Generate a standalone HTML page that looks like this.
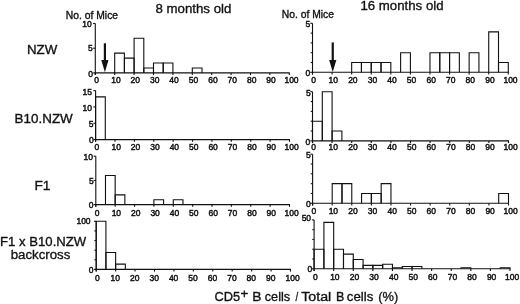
<!DOCTYPE html>
<html><head><meta charset="utf-8"><style>
html,body{margin:0;padding:0;background:#fff;}
body{width:520px;height:304px;overflow:hidden;}
svg{display:block;filter:blur(0.3px);}
text{font-family:"Liberation Sans", sans-serif;fill:#111;stroke:#111;stroke-width:0.35px;}
text.tb{stroke:#111;stroke-width:0.45px;}
</style></head><body>
<svg width="520" height="304" viewBox="0 0 520 304" stroke="#111" stroke-linecap="butt">
<line x1="95.30" y1="23.50" x2="95.30" y2="75.10" stroke-width="1.1"/>
<line x1="94.80" y1="72.90" x2="289.80" y2="72.90" stroke-width="1.1"/>
<line x1="95.30" y1="72.90" x2="95.30" y2="75.10" stroke-width="1.1"/>
<text x="96.50" y="83.00" font-size="8.5" text-anchor="middle" class="tb">0</text>
<line x1="114.70" y1="72.90" x2="114.70" y2="75.10" stroke-width="1.1"/>
<text x="115.90" y="83.00" font-size="8.5" text-anchor="middle" class="tb">10</text>
<line x1="134.10" y1="72.90" x2="134.10" y2="75.10" stroke-width="1.1"/>
<text x="135.30" y="83.00" font-size="8.5" text-anchor="middle" class="tb">20</text>
<line x1="153.50" y1="72.90" x2="153.50" y2="75.10" stroke-width="1.1"/>
<text x="154.70" y="83.00" font-size="8.5" text-anchor="middle" class="tb">30</text>
<line x1="172.90" y1="72.90" x2="172.90" y2="75.10" stroke-width="1.1"/>
<text x="174.10" y="83.00" font-size="8.5" text-anchor="middle" class="tb">40</text>
<line x1="192.30" y1="72.90" x2="192.30" y2="75.10" stroke-width="1.1"/>
<text x="193.50" y="83.00" font-size="8.5" text-anchor="middle" class="tb">50</text>
<line x1="211.70" y1="72.90" x2="211.70" y2="75.10" stroke-width="1.1"/>
<text x="212.90" y="83.00" font-size="8.5" text-anchor="middle" class="tb">60</text>
<line x1="231.10" y1="72.90" x2="231.10" y2="75.10" stroke-width="1.1"/>
<text x="232.30" y="83.00" font-size="8.5" text-anchor="middle" class="tb">70</text>
<line x1="250.50" y1="72.90" x2="250.50" y2="75.10" stroke-width="1.1"/>
<text x="251.70" y="83.00" font-size="8.5" text-anchor="middle" class="tb">80</text>
<line x1="269.90" y1="72.90" x2="269.90" y2="75.10" stroke-width="1.1"/>
<text x="271.10" y="83.00" font-size="8.5" text-anchor="middle" class="tb">90</text>
<line x1="289.30" y1="72.90" x2="289.30" y2="75.10" stroke-width="1.1"/>
<text x="291.50" y="83.00" font-size="8.5" text-anchor="middle" class="tb">100</text>
<line x1="93.10" y1="72.90" x2="95.30" y2="72.90" stroke-width="1.1"/>
<text x="93.10" y="76.55" font-size="8.5" text-anchor="end" class="tb">0</text>
<line x1="93.10" y1="48.20" x2="95.30" y2="48.20" stroke-width="1.1"/>
<text x="92.70" y="51.40" font-size="8.5" text-anchor="end" class="tb">5</text>
<line x1="93.10" y1="23.50" x2="95.30" y2="23.50" stroke-width="1.1"/>
<text x="91.70" y="27.05" font-size="8.5" text-anchor="end" class="tb">10</text>
<path d="M114.70,72.90V53.14H124.40V72.90" fill="none" stroke-width="1.1"/>
<path d="M124.40,72.90V58.08H134.10V72.90" fill="none" stroke-width="1.1"/>
<path d="M134.10,72.90V38.32H143.80V72.90" fill="none" stroke-width="1.1"/>
<path d="M143.80,72.90V67.96H153.50V72.90" fill="none" stroke-width="1.1"/>
<path d="M153.50,72.90V63.02H163.20V72.90" fill="none" stroke-width="1.1"/>
<path d="M163.20,72.90V63.02H172.90V72.90" fill="none" stroke-width="1.1"/>
<path d="M192.30,72.90V67.96H202.00V72.90" fill="none" stroke-width="1.1"/>
<line x1="95.60" y1="90.60" x2="95.60" y2="141.80" stroke-width="1.1"/>
<line x1="95.10" y1="139.60" x2="290.00" y2="139.60" stroke-width="1.1"/>
<line x1="95.60" y1="139.60" x2="95.60" y2="141.80" stroke-width="1.1"/>
<text x="96.80" y="149.80" font-size="8.5" text-anchor="middle" class="tb">0</text>
<line x1="114.99" y1="139.60" x2="114.99" y2="141.80" stroke-width="1.1"/>
<text x="116.19" y="149.80" font-size="8.5" text-anchor="middle" class="tb">10</text>
<line x1="134.38" y1="139.60" x2="134.38" y2="141.80" stroke-width="1.1"/>
<text x="135.58" y="149.80" font-size="8.5" text-anchor="middle" class="tb">20</text>
<line x1="153.77" y1="139.60" x2="153.77" y2="141.80" stroke-width="1.1"/>
<text x="154.97" y="149.80" font-size="8.5" text-anchor="middle" class="tb">30</text>
<line x1="173.16" y1="139.60" x2="173.16" y2="141.80" stroke-width="1.1"/>
<text x="174.36" y="149.80" font-size="8.5" text-anchor="middle" class="tb">40</text>
<line x1="192.55" y1="139.60" x2="192.55" y2="141.80" stroke-width="1.1"/>
<text x="193.75" y="149.80" font-size="8.5" text-anchor="middle" class="tb">50</text>
<line x1="211.94" y1="139.60" x2="211.94" y2="141.80" stroke-width="1.1"/>
<text x="213.14" y="149.80" font-size="8.5" text-anchor="middle" class="tb">60</text>
<line x1="231.33" y1="139.60" x2="231.33" y2="141.80" stroke-width="1.1"/>
<text x="232.53" y="149.80" font-size="8.5" text-anchor="middle" class="tb">70</text>
<line x1="250.72" y1="139.60" x2="250.72" y2="141.80" stroke-width="1.1"/>
<text x="251.92" y="149.80" font-size="8.5" text-anchor="middle" class="tb">80</text>
<line x1="270.11" y1="139.60" x2="270.11" y2="141.80" stroke-width="1.1"/>
<text x="271.31" y="149.80" font-size="8.5" text-anchor="middle" class="tb">90</text>
<line x1="289.50" y1="139.60" x2="289.50" y2="141.80" stroke-width="1.1"/>
<text x="291.70" y="149.80" font-size="8.5" text-anchor="middle" class="tb">100</text>
<line x1="93.40" y1="139.60" x2="95.60" y2="139.60" stroke-width="1.1"/>
<text x="93.70" y="143.10" font-size="8.5" text-anchor="end" class="tb">0</text>
<line x1="93.40" y1="123.27" x2="95.60" y2="123.27" stroke-width="1.1"/>
<text x="93.40" y="127.10" font-size="8.5" text-anchor="end" class="tb">5</text>
<line x1="93.40" y1="106.93" x2="95.60" y2="106.93" stroke-width="1.1"/>
<text x="91.90" y="111.15" font-size="8.5" text-anchor="end" class="tb">10</text>
<line x1="93.40" y1="90.60" x2="95.60" y2="90.60" stroke-width="1.1"/>
<text x="91.90" y="94.95" font-size="8.5" text-anchor="end" class="tb">15</text>
<path d="M95.60,139.60V96.90H105.29V139.60" fill="none" stroke-width="1.1"/>
<line x1="95.80" y1="156.20" x2="95.80" y2="206.80" stroke-width="1.1"/>
<line x1="95.30" y1="204.60" x2="290.00" y2="204.60" stroke-width="1.1"/>
<line x1="95.80" y1="204.60" x2="95.80" y2="206.80" stroke-width="1.1"/>
<text x="97.00" y="215.80" font-size="8.5" text-anchor="middle" class="tb">0</text>
<line x1="115.17" y1="204.60" x2="115.17" y2="206.80" stroke-width="1.1"/>
<text x="116.37" y="215.80" font-size="8.5" text-anchor="middle" class="tb">10</text>
<line x1="134.54" y1="204.60" x2="134.54" y2="206.80" stroke-width="1.1"/>
<text x="135.74" y="215.80" font-size="8.5" text-anchor="middle" class="tb">20</text>
<line x1="153.91" y1="204.60" x2="153.91" y2="206.80" stroke-width="1.1"/>
<text x="155.11" y="215.80" font-size="8.5" text-anchor="middle" class="tb">30</text>
<line x1="173.28" y1="204.60" x2="173.28" y2="206.80" stroke-width="1.1"/>
<text x="174.48" y="215.80" font-size="8.5" text-anchor="middle" class="tb">40</text>
<line x1="192.65" y1="204.60" x2="192.65" y2="206.80" stroke-width="1.1"/>
<text x="193.85" y="215.80" font-size="8.5" text-anchor="middle" class="tb">50</text>
<line x1="212.02" y1="204.60" x2="212.02" y2="206.80" stroke-width="1.1"/>
<text x="213.22" y="215.80" font-size="8.5" text-anchor="middle" class="tb">60</text>
<line x1="231.39" y1="204.60" x2="231.39" y2="206.80" stroke-width="1.1"/>
<text x="232.59" y="215.80" font-size="8.5" text-anchor="middle" class="tb">70</text>
<line x1="250.76" y1="204.60" x2="250.76" y2="206.80" stroke-width="1.1"/>
<text x="251.96" y="215.80" font-size="8.5" text-anchor="middle" class="tb">80</text>
<line x1="270.13" y1="204.60" x2="270.13" y2="206.80" stroke-width="1.1"/>
<text x="271.33" y="215.80" font-size="8.5" text-anchor="middle" class="tb">90</text>
<line x1="289.50" y1="204.60" x2="289.50" y2="206.80" stroke-width="1.1"/>
<text x="291.70" y="215.80" font-size="8.5" text-anchor="middle" class="tb">100</text>
<line x1="93.60" y1="204.60" x2="95.80" y2="204.60" stroke-width="1.1"/>
<text x="93.40" y="208.15" font-size="8.5" text-anchor="end" class="tb">0</text>
<line x1="93.60" y1="180.40" x2="95.80" y2="180.40" stroke-width="1.1"/>
<text x="93.70" y="183.80" font-size="8.5" text-anchor="end" class="tb">5</text>
<line x1="93.60" y1="156.20" x2="95.80" y2="156.20" stroke-width="1.1"/>
<text x="92.90" y="159.85" font-size="8.5" text-anchor="end" class="tb">10</text>
<path d="M105.48,204.60V175.56H115.17V204.60" fill="none" stroke-width="1.1"/>
<path d="M115.17,204.60V194.92H124.85V204.60" fill="none" stroke-width="1.1"/>
<path d="M153.91,204.60V199.76H163.59V204.60" fill="none" stroke-width="1.1"/>
<path d="M173.28,204.60V199.76H182.96V204.60" fill="none" stroke-width="1.1"/>
<line x1="96.20" y1="221.30" x2="96.20" y2="271.60" stroke-width="1.1"/>
<line x1="95.70" y1="269.40" x2="291.00" y2="269.40" stroke-width="1.1"/>
<line x1="96.20" y1="269.40" x2="96.20" y2="271.60" stroke-width="1.1"/>
<text x="97.40" y="280.50" font-size="8.5" text-anchor="middle" class="tb">0</text>
<line x1="115.63" y1="269.40" x2="115.63" y2="271.60" stroke-width="1.1"/>
<text x="115.33" y="280.50" font-size="8.5" text-anchor="middle" class="tb">10</text>
<line x1="135.06" y1="269.40" x2="135.06" y2="271.60" stroke-width="1.1"/>
<text x="134.76" y="280.50" font-size="8.5" text-anchor="middle" class="tb">20</text>
<line x1="154.49" y1="269.40" x2="154.49" y2="271.60" stroke-width="1.1"/>
<text x="154.19" y="280.50" font-size="8.5" text-anchor="middle" class="tb">30</text>
<line x1="173.92" y1="269.40" x2="173.92" y2="271.60" stroke-width="1.1"/>
<text x="173.62" y="280.50" font-size="8.5" text-anchor="middle" class="tb">40</text>
<line x1="193.35" y1="269.40" x2="193.35" y2="271.60" stroke-width="1.1"/>
<text x="193.05" y="280.50" font-size="8.5" text-anchor="middle" class="tb">50</text>
<line x1="212.78" y1="269.40" x2="212.78" y2="271.60" stroke-width="1.1"/>
<text x="212.48" y="280.50" font-size="8.5" text-anchor="middle" class="tb">60</text>
<line x1="232.21" y1="269.40" x2="232.21" y2="271.60" stroke-width="1.1"/>
<text x="231.91" y="280.50" font-size="8.5" text-anchor="middle" class="tb">70</text>
<line x1="251.64" y1="269.40" x2="251.64" y2="271.60" stroke-width="1.1"/>
<text x="251.34" y="280.50" font-size="8.5" text-anchor="middle" class="tb">80</text>
<line x1="271.07" y1="269.40" x2="271.07" y2="271.60" stroke-width="1.1"/>
<text x="270.77" y="280.50" font-size="8.5" text-anchor="middle" class="tb">90</text>
<line x1="290.50" y1="269.40" x2="290.50" y2="271.60" stroke-width="1.1"/>
<text x="292.70" y="280.50" font-size="8.5" text-anchor="middle" class="tb">100</text>
<line x1="94.00" y1="269.40" x2="96.20" y2="269.40" stroke-width="1.1"/>
<text x="93.50" y="273.15" font-size="8.5" text-anchor="end" class="tb">0</text>
<line x1="94.00" y1="221.30" x2="96.20" y2="221.30" stroke-width="1.1"/>
<text x="90.60" y="223.95" font-size="8.5" text-anchor="end" class="tb">100</text>
<line x1="94.40" y1="259.78" x2="96.20" y2="259.78" stroke-width="1.1"/>
<line x1="94.40" y1="250.16" x2="96.20" y2="250.16" stroke-width="1.1"/>
<line x1="94.40" y1="240.54" x2="96.20" y2="240.54" stroke-width="1.1"/>
<line x1="94.40" y1="230.92" x2="96.20" y2="230.92" stroke-width="1.1"/>
<path d="M96.20,269.40V221.30H105.92V269.40" fill="none" stroke-width="1.1"/>
<path d="M105.92,269.40V252.56H115.63V269.40" fill="none" stroke-width="1.1"/>
<path d="M115.63,269.40V264.11H125.34V269.40" fill="none" stroke-width="1.1"/>
<line x1="312.50" y1="23.30" x2="312.50" y2="74.50" stroke-width="1.1"/>
<line x1="312.00" y1="72.30" x2="508.80" y2="72.30" stroke-width="1.1"/>
<line x1="312.50" y1="72.30" x2="312.50" y2="74.50" stroke-width="1.1"/>
<text x="313.70" y="83.10" font-size="8.5" text-anchor="middle" class="tb">0</text>
<line x1="332.08" y1="72.30" x2="332.08" y2="74.50" stroke-width="1.1"/>
<text x="333.28" y="83.10" font-size="8.5" text-anchor="middle" class="tb">10</text>
<line x1="351.66" y1="72.30" x2="351.66" y2="74.50" stroke-width="1.1"/>
<text x="352.86" y="83.10" font-size="8.5" text-anchor="middle" class="tb">20</text>
<line x1="371.24" y1="72.30" x2="371.24" y2="74.50" stroke-width="1.1"/>
<text x="372.44" y="83.10" font-size="8.5" text-anchor="middle" class="tb">30</text>
<line x1="390.82" y1="72.30" x2="390.82" y2="74.50" stroke-width="1.1"/>
<text x="392.02" y="83.10" font-size="8.5" text-anchor="middle" class="tb">40</text>
<line x1="410.40" y1="72.30" x2="410.40" y2="74.50" stroke-width="1.1"/>
<text x="411.60" y="83.10" font-size="8.5" text-anchor="middle" class="tb">50</text>
<line x1="429.98" y1="72.30" x2="429.98" y2="74.50" stroke-width="1.1"/>
<text x="431.18" y="83.10" font-size="8.5" text-anchor="middle" class="tb">60</text>
<line x1="449.56" y1="72.30" x2="449.56" y2="74.50" stroke-width="1.1"/>
<text x="450.76" y="83.10" font-size="8.5" text-anchor="middle" class="tb">70</text>
<line x1="469.14" y1="72.30" x2="469.14" y2="74.50" stroke-width="1.1"/>
<text x="470.34" y="83.10" font-size="8.5" text-anchor="middle" class="tb">80</text>
<line x1="488.72" y1="72.30" x2="488.72" y2="74.50" stroke-width="1.1"/>
<text x="489.92" y="83.10" font-size="8.5" text-anchor="middle" class="tb">90</text>
<line x1="508.30" y1="72.30" x2="508.30" y2="74.50" stroke-width="1.1"/>
<text x="510.50" y="83.10" font-size="8.5" text-anchor="middle" class="tb">100</text>
<line x1="310.30" y1="72.30" x2="312.50" y2="72.30" stroke-width="1.1"/>
<text x="310.30" y="76.45" font-size="8.5" text-anchor="end" class="tb">0</text>
<line x1="310.30" y1="23.30" x2="312.50" y2="23.30" stroke-width="1.1"/>
<text x="310.30" y="27.10" font-size="8.5" text-anchor="end" class="tb">5</text>
<line x1="310.70" y1="62.50" x2="312.50" y2="62.50" stroke-width="1.1"/>
<line x1="310.70" y1="52.70" x2="312.50" y2="52.70" stroke-width="1.1"/>
<line x1="310.70" y1="42.90" x2="312.50" y2="42.90" stroke-width="1.1"/>
<line x1="310.70" y1="33.10" x2="312.50" y2="33.10" stroke-width="1.1"/>
<path d="M351.66,72.30V62.50H361.45V72.30" fill="none" stroke-width="1.1"/>
<path d="M361.45,72.30V62.50H371.24V72.30" fill="none" stroke-width="1.1"/>
<path d="M371.24,72.30V62.50H381.03V72.30" fill="none" stroke-width="1.1"/>
<path d="M381.03,72.30V62.50H390.82V72.30" fill="none" stroke-width="1.1"/>
<path d="M400.61,72.30V52.70H410.40V72.30" fill="none" stroke-width="1.1"/>
<path d="M429.98,72.30V52.70H439.77V72.30" fill="none" stroke-width="1.1"/>
<path d="M439.77,72.30V52.70H449.56V72.30" fill="none" stroke-width="1.1"/>
<path d="M449.56,72.30V52.70H459.35V72.30" fill="none" stroke-width="1.1"/>
<path d="M469.14,72.30V52.70H478.93V72.30" fill="none" stroke-width="1.1"/>
<path d="M488.72,72.30V31.92H498.51V72.30" fill="none" stroke-width="1.1"/>
<path d="M498.51,72.30V62.50H508.30V72.30" fill="none" stroke-width="1.1"/>
<line x1="312.50" y1="91.70" x2="312.50" y2="143.10" stroke-width="1.1"/>
<line x1="312.00" y1="140.90" x2="509.00" y2="140.90" stroke-width="1.1"/>
<line x1="312.50" y1="140.90" x2="312.50" y2="143.10" stroke-width="1.1"/>
<text x="313.70" y="150.20" font-size="8.5" text-anchor="middle" class="tb">0</text>
<line x1="332.10" y1="140.90" x2="332.10" y2="143.10" stroke-width="1.1"/>
<text x="333.30" y="150.20" font-size="8.5" text-anchor="middle" class="tb">10</text>
<line x1="351.70" y1="140.90" x2="351.70" y2="143.10" stroke-width="1.1"/>
<text x="352.90" y="150.20" font-size="8.5" text-anchor="middle" class="tb">20</text>
<line x1="371.30" y1="140.90" x2="371.30" y2="143.10" stroke-width="1.1"/>
<text x="372.50" y="150.20" font-size="8.5" text-anchor="middle" class="tb">30</text>
<line x1="390.90" y1="140.90" x2="390.90" y2="143.10" stroke-width="1.1"/>
<text x="392.10" y="150.20" font-size="8.5" text-anchor="middle" class="tb">40</text>
<line x1="410.50" y1="140.90" x2="410.50" y2="143.10" stroke-width="1.1"/>
<text x="411.70" y="150.20" font-size="8.5" text-anchor="middle" class="tb">50</text>
<line x1="430.10" y1="140.90" x2="430.10" y2="143.10" stroke-width="1.1"/>
<text x="431.30" y="150.20" font-size="8.5" text-anchor="middle" class="tb">60</text>
<line x1="449.70" y1="140.90" x2="449.70" y2="143.10" stroke-width="1.1"/>
<text x="450.90" y="150.20" font-size="8.5" text-anchor="middle" class="tb">70</text>
<line x1="469.30" y1="140.90" x2="469.30" y2="143.10" stroke-width="1.1"/>
<text x="470.50" y="150.20" font-size="8.5" text-anchor="middle" class="tb">80</text>
<line x1="488.90" y1="140.90" x2="488.90" y2="143.10" stroke-width="1.1"/>
<text x="490.10" y="150.20" font-size="8.5" text-anchor="middle" class="tb">90</text>
<line x1="508.50" y1="140.90" x2="508.50" y2="143.10" stroke-width="1.1"/>
<text x="510.70" y="150.20" font-size="8.5" text-anchor="middle" class="tb">100</text>
<line x1="310.30" y1="140.90" x2="312.50" y2="140.90" stroke-width="1.1"/>
<text x="310.30" y="144.75" font-size="8.5" text-anchor="end" class="tb">0</text>
<line x1="310.30" y1="91.70" x2="312.50" y2="91.70" stroke-width="1.1"/>
<text x="310.70" y="95.80" font-size="8.5" text-anchor="end" class="tb">5</text>
<line x1="310.70" y1="131.06" x2="312.50" y2="131.06" stroke-width="1.1"/>
<line x1="310.70" y1="121.22" x2="312.50" y2="121.22" stroke-width="1.1"/>
<line x1="310.70" y1="111.38" x2="312.50" y2="111.38" stroke-width="1.1"/>
<line x1="310.70" y1="101.54" x2="312.50" y2="101.54" stroke-width="1.1"/>
<path d="M312.50,140.90V121.22H322.30V140.90" fill="none" stroke-width="1.1"/>
<path d="M322.30,140.90V91.70H332.10V140.90" fill="none" stroke-width="1.1"/>
<path d="M332.10,140.90V131.06H341.90V140.90" fill="none" stroke-width="1.1"/>
<line x1="312.60" y1="154.20" x2="312.60" y2="205.50" stroke-width="1.1"/>
<line x1="312.10" y1="203.30" x2="509.00" y2="203.30" stroke-width="1.1"/>
<line x1="312.60" y1="203.30" x2="312.60" y2="205.50" stroke-width="1.1"/>
<text x="313.80" y="213.50" font-size="8.5" text-anchor="middle" class="tb">0</text>
<line x1="332.19" y1="203.30" x2="332.19" y2="205.50" stroke-width="1.1"/>
<text x="333.39" y="213.50" font-size="8.5" text-anchor="middle" class="tb">10</text>
<line x1="351.78" y1="203.30" x2="351.78" y2="205.50" stroke-width="1.1"/>
<text x="352.98" y="213.50" font-size="8.5" text-anchor="middle" class="tb">20</text>
<line x1="371.37" y1="203.30" x2="371.37" y2="205.50" stroke-width="1.1"/>
<text x="372.57" y="213.50" font-size="8.5" text-anchor="middle" class="tb">30</text>
<line x1="390.96" y1="203.30" x2="390.96" y2="205.50" stroke-width="1.1"/>
<text x="392.16" y="213.50" font-size="8.5" text-anchor="middle" class="tb">40</text>
<line x1="410.55" y1="203.30" x2="410.55" y2="205.50" stroke-width="1.1"/>
<text x="411.75" y="213.50" font-size="8.5" text-anchor="middle" class="tb">50</text>
<line x1="430.14" y1="203.30" x2="430.14" y2="205.50" stroke-width="1.1"/>
<text x="431.34" y="213.50" font-size="8.5" text-anchor="middle" class="tb">60</text>
<line x1="449.73" y1="203.30" x2="449.73" y2="205.50" stroke-width="1.1"/>
<text x="450.93" y="213.50" font-size="8.5" text-anchor="middle" class="tb">70</text>
<line x1="469.32" y1="203.30" x2="469.32" y2="205.50" stroke-width="1.1"/>
<text x="470.52" y="213.50" font-size="8.5" text-anchor="middle" class="tb">80</text>
<line x1="488.91" y1="203.30" x2="488.91" y2="205.50" stroke-width="1.1"/>
<text x="490.11" y="213.50" font-size="8.5" text-anchor="middle" class="tb">90</text>
<line x1="508.50" y1="203.30" x2="508.50" y2="205.50" stroke-width="1.1"/>
<text x="510.70" y="213.50" font-size="8.5" text-anchor="middle" class="tb">100</text>
<line x1="310.40" y1="203.30" x2="312.60" y2="203.30" stroke-width="1.1"/>
<text x="310.70" y="207.15" font-size="8.5" text-anchor="end" class="tb">0</text>
<line x1="310.40" y1="154.20" x2="312.60" y2="154.20" stroke-width="1.1"/>
<text x="310.70" y="157.60" font-size="8.5" text-anchor="end" class="tb">5</text>
<line x1="310.80" y1="193.48" x2="312.60" y2="193.48" stroke-width="1.1"/>
<line x1="310.80" y1="183.66" x2="312.60" y2="183.66" stroke-width="1.1"/>
<line x1="310.80" y1="173.84" x2="312.60" y2="173.84" stroke-width="1.1"/>
<line x1="310.80" y1="164.02" x2="312.60" y2="164.02" stroke-width="1.1"/>
<path d="M332.19,203.30V183.66H341.99V203.30" fill="none" stroke-width="1.1"/>
<path d="M341.99,203.30V183.66H351.78V203.30" fill="none" stroke-width="1.1"/>
<path d="M361.58,203.30V193.48H371.37V203.30" fill="none" stroke-width="1.1"/>
<path d="M371.37,203.30V193.48H381.17V203.30" fill="none" stroke-width="1.1"/>
<path d="M381.17,203.30V183.66H390.96V203.30" fill="none" stroke-width="1.1"/>
<path d="M498.71,203.30V193.48H508.50V203.30" fill="none" stroke-width="1.1"/>
<line x1="314.10" y1="219.90" x2="314.10" y2="271.00" stroke-width="1.1"/>
<line x1="313.60" y1="268.80" x2="510.50" y2="268.80" stroke-width="1.1"/>
<line x1="314.10" y1="268.80" x2="314.10" y2="271.00" stroke-width="1.1"/>
<text x="315.30" y="279.90" font-size="8.5" text-anchor="middle" class="tb">0</text>
<line x1="333.69" y1="268.80" x2="333.69" y2="271.00" stroke-width="1.1"/>
<text x="334.89" y="279.90" font-size="8.5" text-anchor="middle" class="tb">10</text>
<line x1="353.28" y1="268.80" x2="353.28" y2="271.00" stroke-width="1.1"/>
<text x="354.48" y="279.90" font-size="8.5" text-anchor="middle" class="tb">20</text>
<line x1="372.87" y1="268.80" x2="372.87" y2="271.00" stroke-width="1.1"/>
<text x="374.07" y="279.90" font-size="8.5" text-anchor="middle" class="tb">30</text>
<line x1="392.46" y1="268.80" x2="392.46" y2="271.00" stroke-width="1.1"/>
<text x="393.66" y="279.90" font-size="8.5" text-anchor="middle" class="tb">40</text>
<line x1="412.05" y1="268.80" x2="412.05" y2="271.00" stroke-width="1.1"/>
<text x="413.25" y="279.90" font-size="8.5" text-anchor="middle" class="tb">50</text>
<line x1="431.64" y1="268.80" x2="431.64" y2="271.00" stroke-width="1.1"/>
<text x="432.84" y="279.90" font-size="8.5" text-anchor="middle" class="tb">60</text>
<line x1="451.23" y1="268.80" x2="451.23" y2="271.00" stroke-width="1.1"/>
<text x="452.43" y="279.90" font-size="8.5" text-anchor="middle" class="tb">70</text>
<line x1="470.82" y1="268.80" x2="470.82" y2="271.00" stroke-width="1.1"/>
<text x="472.02" y="279.90" font-size="8.5" text-anchor="middle" class="tb">80</text>
<line x1="490.41" y1="268.80" x2="490.41" y2="271.00" stroke-width="1.1"/>
<text x="491.61" y="279.90" font-size="8.5" text-anchor="middle" class="tb">90</text>
<line x1="510.00" y1="268.80" x2="510.00" y2="271.00" stroke-width="1.1"/>
<text x="512.20" y="279.90" font-size="8.5" text-anchor="middle" class="tb">100</text>
<line x1="311.90" y1="268.80" x2="314.10" y2="268.80" stroke-width="1.1"/>
<text x="312.30" y="272.40" font-size="8.5" text-anchor="end" class="tb">0</text>
<line x1="311.90" y1="219.90" x2="314.10" y2="219.90" stroke-width="1.1"/>
<text x="311.10" y="221.40" font-size="8.5" text-anchor="end" class="tb">50</text>
<line x1="312.30" y1="259.02" x2="314.10" y2="259.02" stroke-width="1.1"/>
<line x1="312.30" y1="249.24" x2="314.10" y2="249.24" stroke-width="1.1"/>
<line x1="312.30" y1="239.46" x2="314.10" y2="239.46" stroke-width="1.1"/>
<line x1="312.30" y1="229.68" x2="314.10" y2="229.68" stroke-width="1.1"/>
<path d="M314.10,268.80V249.24H323.90V268.80" fill="none" stroke-width="1.1"/>
<path d="M323.90,268.80V222.34H333.69V268.80" fill="none" stroke-width="1.1"/>
<path d="M333.69,268.80V249.24H343.49V268.80" fill="none" stroke-width="1.1"/>
<path d="M343.49,268.80V254.13H353.28V268.80" fill="none" stroke-width="1.1"/>
<path d="M353.28,268.80V259.51H363.08V268.80" fill="none" stroke-width="1.1"/>
<path d="M363.08,268.80V265.38H372.87V268.80" fill="none" stroke-width="1.1"/>
<path d="M372.87,268.80V265.38H382.67V268.80" fill="none" stroke-width="1.1"/>
<path d="M382.67,268.80V264.20H392.46V268.80" fill="none" stroke-width="1.1"/>
<path d="M392.46,268.80V267.82H402.25V268.80" fill="none" stroke-width="1.1"/>
<path d="M402.25,268.80V266.45H412.05V268.80" fill="none" stroke-width="1.1"/>
<path d="M412.05,268.80V266.45H421.85V268.80" fill="none" stroke-width="1.1"/>
<path d="M461.02,268.80V267.82H470.82V268.80" fill="none" stroke-width="1.1"/>
<path d="M500.21,268.80V267.82H510.00V268.80" fill="none" stroke-width="1.1"/>
<line x1="104.90" y1="43.30" x2="104.90" y2="61.90" stroke-width="2.2"/>
<path d="M101.30,59.90L108.50,59.90L104.90,72.30Z" fill="#111" stroke="none"/>
<line x1="332.75" y1="42.40" x2="332.75" y2="61.90" stroke-width="2.2"/>
<path d="M329.15,59.90L336.35,59.90L332.75,72.00Z" fill="#111" stroke="none"/>
<text x="155.41" y="12.70" font-size="13.7" text-anchor="start" textLength="75.97" lengthAdjust="spacingAndGlyphs">8 months old</text>
<text x="360.46" y="10.40" font-size="13.7" text-anchor="start" textLength="83.11" lengthAdjust="spacingAndGlyphs">16 months old</text>
<text x="65.85" y="18.50" font-size="10.4" text-anchor="start" textLength="52.21" lengthAdjust="spacingAndGlyphs">No. of Mice</text>
<text x="281.85" y="17.80" font-size="10.4" text-anchor="start" textLength="52.11" lengthAdjust="spacingAndGlyphs">No. of Mice</text>
<text x="26.98" y="53.50" font-size="13.7" text-anchor="start" textLength="30.28" lengthAdjust="spacingAndGlyphs">NZW</text>
<text x="14.58" y="122.80" font-size="13.7" text-anchor="start" textLength="58.18" lengthAdjust="spacingAndGlyphs">B10.NZW</text>
<text x="34.38" y="189.60" font-size="13.7" text-anchor="start">F1</text>
<text x="0.08" y="246.30" font-size="13.7" text-anchor="start" textLength="86.17" lengthAdjust="spacingAndGlyphs">F1 x B10.NZW</text>
<text x="10.66" y="259.30" font-size="13.7" text-anchor="start" textLength="59.64" lengthAdjust="spacingAndGlyphs">backcross</text>
<text x="214.40" y="300.50" font-size="13.7" text-anchor="start" textLength="25.68" lengthAdjust="spacingAndGlyphs">CD5</text>
<text x="240.51" y="297.90" font-size="12.0" text-anchor="start" textLength="7.78" lengthAdjust="spacingAndGlyphs">+</text>
<text x="252.28" y="300.50" font-size="13.7" text-anchor="start" textLength="9.25" lengthAdjust="spacingAndGlyphs">B</text>
<text x="264.82" y="300.50" font-size="13.7" text-anchor="start" textLength="25.26" lengthAdjust="spacingAndGlyphs">cells</text>
<text x="295.50" y="300.50" font-size="13.7" text-anchor="start" textLength="2.70" lengthAdjust="spacingAndGlyphs">/</text>
<text x="301.20" y="300.50" font-size="13.7" text-anchor="start" textLength="30.02" lengthAdjust="spacingAndGlyphs">Total</text>
<text x="335.88" y="300.50" font-size="13.7" text-anchor="start" textLength="8.35" lengthAdjust="spacingAndGlyphs">B</text>
<text x="346.82" y="300.50" font-size="13.7" text-anchor="start" textLength="26.46" lengthAdjust="spacingAndGlyphs">cells</text>
<text x="378.25" y="300.50" font-size="13.7" text-anchor="start" textLength="20.00" lengthAdjust="spacingAndGlyphs">(%)</text>
</svg>
</body></html>
